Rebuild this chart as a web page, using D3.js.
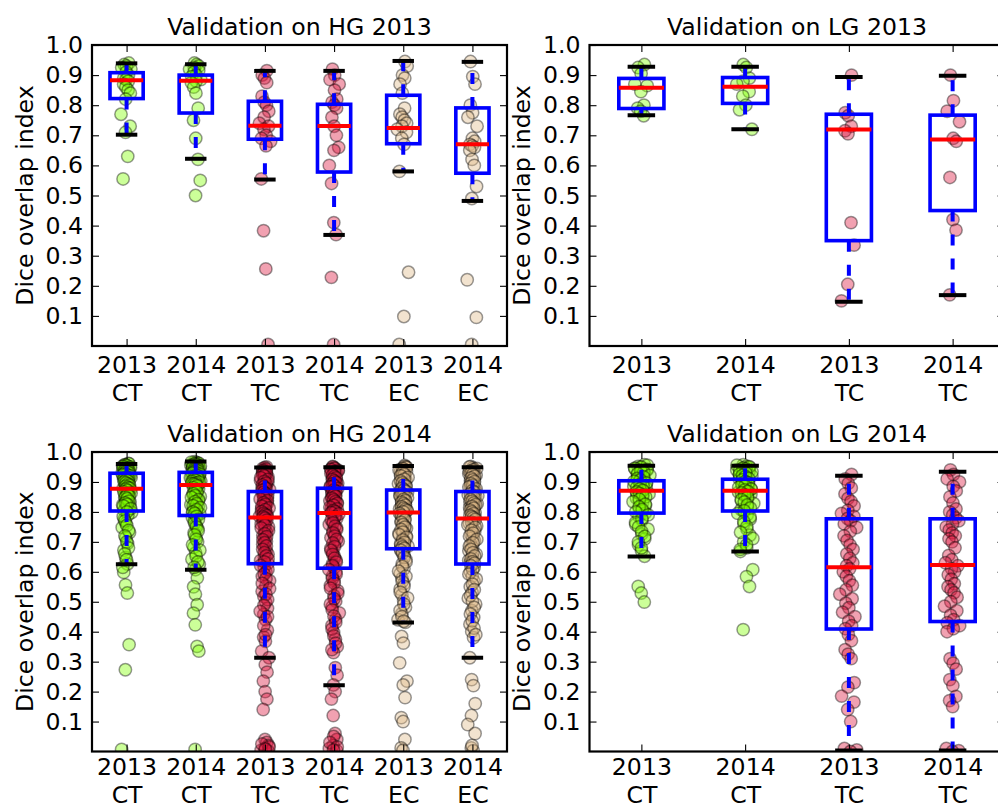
<!DOCTYPE html>
<html>
<head>
<meta charset="utf-8">
<script src="https://cdn.jsdelivr.net/npm/d3@7"></script>
<style>
  body { margin: 0; background: #fff; }
  svg { display: block; font-family: "DejaVu Sans", sans-serif; }
</style>
</head>
<body>
<svg id="chart" width="998" height="809"></svg>
<script>
// categories
const hgCats = [["2013", "CT"], ["2014", "CT"], ["2013", "TC"], ["2014", "TC"], ["2013", "EC"], ["2014", "EC"]];
const lgCats = [["2013", "CT"], ["2014", "CT"], ["2013", "TC"], ["2014", "TC"]];
const yTicks = [0.1, 0.2, 0.3, 0.4, 0.5, 0.6, 0.7, 0.8, 0.9, 1.0];

// ---- Validation on HG 2013 ----
const hg2013Scores = [
  [0.94, 0.935, 0.93, 0.925, 0.92, 0.91, 0.90, 0.89, 0.885, 0.88, 0.87, 0.86, 0.85, 0.84, 0.82, 0.77, 0.73, 0.71, 0.63, 0.555],
  [0.94, 0.935, 0.93, 0.925, 0.92, 0.915, 0.91, 0.90, 0.895, 0.885, 0.88, 0.875, 0.86, 0.84, 0.79, 0.75, 0.69, 0.62, 0.55, 0.50],
  [0.915, 0.90, 0.89, 0.875, 0.83, 0.81, 0.80, 0.78, 0.76, 0.74, 0.73, 0.72, 0.70, 0.69, 0.68, 0.665, 0.555, 0.383, 0.256, 0.005],
  [0.92, 0.90, 0.885, 0.87, 0.85, 0.82, 0.81, 0.80, 0.79, 0.76, 0.73, 0.70, 0.66, 0.65, 0.60, 0.54, 0.41, 0.37, 0.228, 0.005],
  [0.945, 0.93, 0.90, 0.89, 0.87, 0.84, 0.79, 0.77, 0.76, 0.75, 0.74, 0.73, 0.72, 0.71, 0.69, 0.67, 0.58, 0.245, 0.098, 0.005],
  [0.945, 0.895, 0.87, 0.80, 0.775, 0.76, 0.73, 0.69, 0.68, 0.67, 0.665, 0.66, 0.65, 0.62, 0.60, 0.53, 0.49, 0.22, 0.095, 0.005]
];
const hg2013WhisHi = [0.939, 0.936, 0.914, 0.914, 0.947, 0.944];
const hg2013Q3     = [0.908, 0.900, 0.813, 0.803, 0.833, 0.791];
const hg2013Median = [0.883, 0.881, 0.732, 0.731, 0.724, 0.670];
const hg2013Q1     = [0.822, 0.774, 0.687, 0.578, 0.672, 0.574];
const hg2013WhisLo = [0.702, 0.622, 0.553, 0.369, 0.580, 0.482];

// ---- Validation on LG 2013 ----
const lg2013Scores = [
  [0.935, 0.925, 0.905, 0.87, 0.865, 0.845, 0.80, 0.79, 0.78, 0.765],
  [0.935, 0.925, 0.89, 0.88, 0.87, 0.845, 0.83, 0.80, 0.785, 0.72],
  [0.90, 0.775, 0.765, 0.73, 0.715, 0.705, 0.41, 0.335, 0.205, 0.15],
  [0.90, 0.815, 0.78, 0.745, 0.69, 0.68, 0.56, 0.42, 0.385, 0.17]
];
const lg2013WhisHi = [0.928, 0.928, 0.894, 0.898];
const lg2013Q3     = [0.889, 0.892, 0.770, 0.767];
const lg2013Median = [0.858, 0.861, 0.719, 0.686];
const lg2013Q1     = [0.789, 0.806, 0.350, 0.450];
const lg2013WhisLo = [0.767, 0.720, 0.147, 0.169];

// ---- Validation on HG 2014 ----
const hg2014Scores = [
  [0.962, 0.958, 0.955, 0.953, 0.95, 0.948, 0.946, 0.944, 0.942, 0.94, 0.938, 0.936, 0.934, 0.933, 0.931, 0.93,
   0.927, 0.924, 0.921, 0.918, 0.915, 0.912, 0.909, 0.905, 0.902, 0.899, 0.895, 0.891, 0.888, 0.884, 0.881, 0.878,
   0.874, 0.869, 0.865, 0.861, 0.856, 0.851, 0.847, 0.842, 0.838, 0.833, 0.828, 0.823, 0.818, 0.814, 0.809, 0.805,
   0.798, 0.789, 0.776, 0.762, 0.748, 0.731, 0.714, 0.695, 0.672, 0.648, 0.626, 0.598, 0.556, 0.529, 0.357, 0.273, 0.007,
   0.961, 0.957, 0.954, 0.951, 0.949, 0.947, 0.945, 0.943, 0.941, 0.939, 0.937, 0.935, 0.932, 0.929, 0.926, 0.923,
   0.92, 0.917, 0.914, 0.911, 0.907, 0.903, 0.9, 0.897, 0.893, 0.889, 0.886, 0.882, 0.879, 0.876, 0.872, 0.867,
   0.863, 0.858, 0.853, 0.849, 0.844, 0.836, 0.83, 0.825, 0.82, 0.811, 0.8, 0.785, 0.77, 0.755, 0.738, 0.72,
   0.7, 0.68, 0.66, 0.64, 0.615],
  [0.968, 0.965, 0.962, 0.96, 0.957, 0.955, 0.952, 0.95, 0.948, 0.945, 0.943, 0.941, 0.939, 0.937, 0.935, 0.933,
   0.93, 0.927, 0.924, 0.921, 0.918, 0.915, 0.912, 0.909, 0.906, 0.903, 0.9, 0.898, 0.896, 0.894, 0.892, 0.89,
   0.884, 0.877, 0.871, 0.864, 0.858, 0.851, 0.845, 0.838, 0.831, 0.824, 0.818, 0.811, 0.804, 0.798, 0.793, 0.789,
   0.781, 0.77, 0.757, 0.744, 0.73, 0.716, 0.7, 0.682, 0.663, 0.642, 0.625, 0.607, 0.58, 0.55, 0.525, 0.49, 0.462, 0.423, 0.351, 0.335, 0.007,
   0.966, 0.963, 0.961, 0.958, 0.956, 0.953, 0.951, 0.949, 0.946, 0.944, 0.942, 0.94, 0.938, 0.936, 0.934, 0.931,
   0.929, 0.926, 0.923, 0.92, 0.917, 0.914, 0.911, 0.908, 0.905, 0.902, 0.899, 0.897, 0.895, 0.893, 0.891, 0.887,
   0.881, 0.874, 0.867, 0.861, 0.854, 0.848, 0.841, 0.834, 0.827, 0.821, 0.814, 0.807, 0.8, 0.795, 0.785, 0.775,
   0.763, 0.75, 0.737, 0.723, 0.708, 0.69, 0.672, 0.652, 0.633, 0.615],
  [0.95, 0.945, 0.94, 0.936, 0.932, 0.928, 0.922, 0.917, 0.911, 0.905, 0.899, 0.893, 0.887, 0.881, 0.875, 0.869,
   0.864, 0.858, 0.852, 0.846, 0.84, 0.834, 0.828, 0.822, 0.816, 0.81, 0.804, 0.798, 0.793, 0.789, 0.785, 0.782,
   0.776, 0.768, 0.759, 0.75, 0.741, 0.732, 0.722, 0.712, 0.702, 0.692, 0.681, 0.67, 0.659, 0.648, 0.638, 0.628,
   0.615, 0.6, 0.585, 0.57, 0.553, 0.535, 0.517, 0.498, 0.478, 0.458, 0.44, 0.405, 0.382, 0.368, 0.335, 0.313,
   0.29, 0.265, 0.235, 0.2, 0.175, 0.14, 0.04, 0.03, 0.02, 0.01, 0.004, 0.0,
   0.948, 0.943, 0.938, 0.934, 0.93, 0.925, 0.92, 0.914, 0.908, 0.902, 0.896, 0.89, 0.884, 0.878, 0.872, 0.866,
   0.861, 0.855, 0.849, 0.843, 0.837, 0.831, 0.825, 0.819, 0.813, 0.807, 0.801, 0.795, 0.791, 0.787, 0.783, 0.779,
   0.772, 0.764, 0.755, 0.746, 0.737, 0.727, 0.717, 0.707, 0.697, 0.686, 0.675, 0.664, 0.653, 0.643, 0.633, 0.621,
   0.607, 0.592, 0.577, 0.561, 0.544, 0.526, 0.507, 0.488, 0.468, 0.45, 0.42, 0.39, 0.025, 0.015, 0.008],
  [0.952, 0.947, 0.943, 0.939, 0.935, 0.931, 0.926, 0.921, 0.916, 0.911, 0.906, 0.901, 0.896, 0.891, 0.886, 0.881,
   0.876, 0.871, 0.866, 0.861, 0.855, 0.849, 0.843, 0.837, 0.831, 0.825, 0.819, 0.813, 0.808, 0.803, 0.799, 0.796,
   0.788, 0.778, 0.768, 0.758, 0.747, 0.736, 0.725, 0.714, 0.702, 0.69, 0.678, 0.665, 0.652, 0.639, 0.626, 0.614,
   0.6, 0.585, 0.57, 0.554, 0.537, 0.52, 0.502, 0.483, 0.463, 0.442, 0.42, 0.398, 0.375, 0.35, 0.33, 0.28,
   0.255, 0.222, 0.2, 0.175, 0.12, 0.06, 0.04, 0.02, 0.01, 0.003,
   0.95, 0.945, 0.941, 0.937, 0.933, 0.928, 0.923, 0.918, 0.913, 0.908, 0.903, 0.898, 0.893, 0.888, 0.883, 0.878,
   0.873, 0.868, 0.863, 0.858, 0.852, 0.846, 0.84, 0.834, 0.828, 0.822, 0.816, 0.81, 0.805, 0.801, 0.797, 0.793,
   0.783, 0.773, 0.763, 0.752, 0.741, 0.73, 0.719, 0.708, 0.696, 0.684, 0.671, 0.658, 0.645, 0.632, 0.62, 0.607,
   0.592, 0.577, 0.562, 0.545, 0.528, 0.51, 0.492, 0.473, 0.452, 0.431, 0.409, 0.386, 0.362, 0.34, 0.05, 0.03, 0.015, 0.005],
  [0.955, 0.95, 0.946, 0.942, 0.938, 0.933, 0.928, 0.923, 0.918, 0.912, 0.906, 0.9, 0.894, 0.888, 0.882, 0.876,
   0.87, 0.865, 0.86, 0.855, 0.85, 0.845, 0.84, 0.835, 0.83, 0.825, 0.82, 0.815, 0.81, 0.806, 0.802, 0.799,
   0.792, 0.785, 0.777, 0.769, 0.761, 0.753, 0.745, 0.737, 0.728, 0.72, 0.711, 0.702, 0.694, 0.686, 0.68, 0.677,
   0.668, 0.655, 0.641, 0.626, 0.61, 0.594, 0.577, 0.56, 0.542, 0.523, 0.503, 0.482, 0.46, 0.44, 0.431, 0.384,
   0.362, 0.296, 0.235, 0.222, 0.18, 0.113, 0.1, 0.04, 0.012, 0.004,
   0.952, 0.948, 0.944, 0.94, 0.935, 0.93, 0.925, 0.92, 0.915, 0.909, 0.903, 0.897, 0.891, 0.885, 0.879, 0.873,
   0.868, 0.862, 0.857, 0.852, 0.847, 0.842, 0.837, 0.832, 0.827, 0.822, 0.817, 0.812, 0.808, 0.804, 0.8, 0.795,
   0.788, 0.781, 0.773, 0.765, 0.757, 0.749, 0.741, 0.732, 0.724, 0.715, 0.706, 0.698, 0.69, 0.683, 0.678, 0.672,
   0.662, 0.648, 0.633, 0.618, 0.602, 0.585, 0.568, 0.551, 0.532, 0.513, 0.492, 0.471, 0.45, 0.435],
  [0.952, 0.947, 0.942, 0.937, 0.932, 0.927, 0.922, 0.916, 0.91, 0.904, 0.898, 0.892, 0.886, 0.88, 0.874, 0.869,
   0.863, 0.857, 0.851, 0.845, 0.839, 0.833, 0.827, 0.821, 0.815, 0.809, 0.803, 0.797, 0.791, 0.786, 0.782, 0.779,
   0.771, 0.762, 0.753, 0.744, 0.734, 0.724, 0.714, 0.703, 0.692, 0.681, 0.67, 0.659, 0.648, 0.638, 0.631, 0.627,
   0.615, 0.6, 0.585, 0.568, 0.55, 0.531, 0.512, 0.492, 0.47, 0.448, 0.425, 0.4, 0.38, 0.313, 0.24, 0.22,
   0.16, 0.12, 0.09, 0.06, 0.012, 0.003,
   0.95, 0.945, 0.94, 0.935, 0.93, 0.925, 0.919, 0.913, 0.907, 0.901, 0.895, 0.889, 0.883, 0.877, 0.871, 0.866,
   0.86, 0.854, 0.848, 0.842, 0.836, 0.83, 0.824, 0.818, 0.812, 0.806, 0.8, 0.794, 0.788, 0.784, 0.78, 0.775,
   0.766, 0.757, 0.748, 0.739, 0.729, 0.719, 0.708, 0.697, 0.686, 0.675, 0.664, 0.653, 0.643, 0.634, 0.629, 0.62,
   0.607, 0.592, 0.576, 0.559, 0.54, 0.521, 0.502, 0.481, 0.459, 0.436, 0.412, 0.39, 0.02]
];
const hg2014WhisHi = [0.960, 0.968, 0.948, 0.949, 0.953, 0.949];
const hg2014Q3     = [0.929, 0.932, 0.868, 0.879, 0.873, 0.868];
const hg2014Median = [0.877, 0.890, 0.781, 0.796, 0.798, 0.778];
const hg2014Q1     = [0.803, 0.788, 0.627, 0.612, 0.677, 0.626];
const hg2014WhisLo = [0.625, 0.607, 0.313, 0.221, 0.431, 0.313];

// ---- Validation on LG 2014 ----
const lg2014Scores = [
  [0.958, 0.952, 0.948, 0.944, 0.94, 0.935, 0.93, 0.925, 0.92, 0.915, 0.91, 0.905, 0.9, 0.895, 0.89, 0.885,
   0.88, 0.875, 0.87, 0.865, 0.86, 0.853, 0.846, 0.838, 0.83, 0.822, 0.813, 0.804, 0.796, 0.785, 0.772, 0.758,
   0.742, 0.726, 0.71, 0.69, 0.67, 0.652, 0.551, 0.529, 0.499,
   0.956, 0.95, 0.946, 0.942, 0.938, 0.933, 0.928, 0.922, 0.917, 0.912, 0.907, 0.902, 0.897, 0.892, 0.887, 0.882,
   0.877, 0.872, 0.867, 0.862, 0.856, 0.85, 0.842, 0.834, 0.826, 0.817, 0.808, 0.8, 0.79, 0.778, 0.765, 0.75,
   0.735, 0.718, 0.7, 0.68],
  [0.958, 0.953, 0.949, 0.945, 0.94, 0.936, 0.932, 0.928, 0.924, 0.92, 0.915, 0.91, 0.905, 0.9, 0.895, 0.89,
   0.885, 0.88, 0.875, 0.871, 0.866, 0.86, 0.853, 0.845, 0.837, 0.828, 0.818, 0.808, 0.8, 0.79, 0.776, 0.76,
   0.742, 0.722, 0.7, 0.68, 0.668, 0.607, 0.584, 0.551, 0.407,
   0.956, 0.951, 0.947, 0.943, 0.938, 0.934, 0.93, 0.926, 0.922, 0.918, 0.912, 0.907, 0.902, 0.897, 0.892, 0.887,
   0.882, 0.877, 0.873, 0.868, 0.863, 0.857, 0.849, 0.841, 0.833, 0.823, 0.813, 0.804, 0.795, 0.783, 0.768, 0.751,
   0.732, 0.711, 0.69, 0.675],
  [0.925, 0.91, 0.895, 0.88, 0.86, 0.845, 0.835, 0.82, 0.805, 0.795, 0.785, 0.778, 0.77, 0.76, 0.748, 0.735,
   0.72, 0.705, 0.69, 0.675, 0.66, 0.645, 0.63, 0.62, 0.61, 0.6, 0.585, 0.57, 0.555, 0.54, 0.525, 0.51,
   0.495, 0.48, 0.465, 0.45, 0.435, 0.42, 0.41, 0.39, 0.37, 0.34, 0.325, 0.31, 0.23, 0.215, 0.185, 0.165,
   0.14, 0.1, 0.01, 0.005, 0.0],
  [0.94, 0.925, 0.91, 0.9, 0.885, 0.87, 0.85, 0.83, 0.81, 0.8, 0.79, 0.78, 0.77, 0.76, 0.75, 0.74,
   0.73, 0.72, 0.71, 0.7, 0.68, 0.655, 0.64, 0.63, 0.62, 0.61, 0.6, 0.59, 0.575, 0.56, 0.55, 0.54,
   0.53, 0.515, 0.5, 0.485, 0.47, 0.455, 0.44, 0.43, 0.42, 0.41, 0.4, 0.31, 0.295, 0.275, 0.24, 0.22,
   0.184, 0.17, 0.15, 0.01, 0.003, 0.0]
];
const lg2014WhisHi = [0.954, 0.954, 0.921, 0.934];
const lg2014Q3     = [0.904, 0.909, 0.777, 0.777];
const lg2014Median = [0.871, 0.871, 0.615, 0.623];
const lg2014Q1     = [0.796, 0.803, 0.409, 0.434];
const lg2014WhisLo = [0.651, 0.668, 0.003, 0.003];

const pointColor = { CT: "#7fff00", TC: "#dc143c", EC: "#deb887" };

const panels = [
  { id: "hg13", title: "Validation on HG 2013", cats: hgCats, scores: hg2013Scores,
    hi: hg2013WhisHi, q3: hg2013Q3, med: hg2013Median, q1: hg2013Q1, lo: hg2013WhisLo,
    left: 92, right: 507, top: 45, bottom: 346, labelX: 33, boxW: 0.48, capW: 0.31, spread: 0.1, pad: 10 },
  { id: "lg13", title: "Validation on LG 2013", cats: lgCats, scores: lg2013Scores,
    hi: lg2013WhisHi, q3: lg2013Q3, med: lg2013Median, q1: lg2013Q1, lo: lg2013WhisLo,
    left: 589.5, right: 1004.5, top: 45, bottom: 346, labelX: 530, boxW: 0.435, capW: 0.265, spread: 0.09, pad: 10 },
  { id: "hg14", title: "Validation on HG 2014", cats: hgCats, scores: hg2014Scores,
    hi: hg2014WhisHi, q3: hg2014Q3, med: hg2014Median, q1: hg2014Q1, lo: hg2014WhisLo,
    left: 92, right: 507, top: 452, bottom: 751.5, labelX: 33, boxW: 0.48, capW: 0.31, spread: 0.08, pad: 7 },
  { id: "lg14", title: "Validation on LG 2014", cats: lgCats, scores: lg2014Scores,
    hi: lg2014WhisHi, q3: lg2014Q3, med: lg2014Median, q1: lg2014Q1, lo: lg2014WhisLo,
    left: 589.5, right: 1004.5, top: 452, bottom: 751.5, labelX: 530, boxW: 0.435, capW: 0.265, spread: 0.09, pad: 7 }
];

const svg = d3.select("#chart");
const fontSize = 23.6;

// deterministic jitter so points sit side by side around the category
function jitter(i, c) {
  const a = ((i + 1) * 0.7548777 + c * 0.31) % 1;
  const b = ((i + 1) * 0.5698403 + c * 0.17) % 1;
  return a + b - 1;
}

panels.forEach(drawPanel);

function drawPanel(p) {
  const n = p.cats.length;
  const x = d3.scaleLinear().domain([0.5, n + 0.5]).range([p.left, p.right]);
  const y = d3.scaleLinear().domain([0, 1]).range([p.bottom, p.top]);
  const idx = d3.range(n);

  const g = svg.append("g");
  g.append("clipPath").attr("id", "clip-" + p.id)
    .append("rect")
    .attr("x", p.left).attr("y", p.top)
    .attr("width", p.right - p.left).attr("height", p.bottom - p.top);

  const plot = g.append("g").attr("clip-path", `url(#clip-${p.id})`);

  // scatter of all scores
  p.scores.forEach((vals, c) => {
    plot.append("g").selectAll("circle")
      .data(vals)
      .enter().append("circle")
      .attr("cx", (d, i) => x(c + 1 + jitter(i, c) * p.spread))
      .attr("cy", d => y(d))
      .attr("r", 6.2)
      .attr("fill", pointColor[p.cats[c][1]])
      .attr("fill-opacity", 0.4)
      .attr("stroke", "#000")
      .attr("stroke-opacity", 0.4)
      .attr("stroke-width", 1.5);
  });

  // whiskers (dashed, from box edge outwards)
  const whisk = plot.append("g")
    .attr("stroke", "#0000ff").attr("stroke-width", 4).attr("stroke-dasharray", "11,13");
  whisk.selectAll(".wlo").data(idx).enter().append("line")
    .attr("x1", c => x(c + 1)).attr("x2", c => x(c + 1))
    .attr("y1", c => y(p.q1[c])).attr("y2", c => y(p.lo[c]));
  whisk.selectAll(".whi").data(idx).enter().append("line")
    .attr("x1", c => x(c + 1)).attr("x2", c => x(c + 1))
    .attr("y1", c => y(p.q3[c])).attr("y2", c => y(p.hi[c]));

  // boxes
  plot.append("g").selectAll("rect").data(idx).enter().append("rect")
    .attr("x", c => x(c + 1 - p.boxW / 2))
    .attr("width", c => x(c + 1 + p.boxW / 2) - x(c + 1 - p.boxW / 2))
    .attr("y", c => y(p.q3[c]))
    .attr("height", c => y(p.q1[c]) - y(p.q3[c]))
    .attr("fill", "none").attr("stroke", "#0000ff").attr("stroke-width", 3.6);

  // medians
  plot.append("g").selectAll("line").data(idx).enter().append("line")
    .attr("x1", c => x(c + 1 - p.boxW / 2)).attr("x2", c => x(c + 1 + p.boxW / 2))
    .attr("y1", c => y(p.med[c])).attr("y2", c => y(p.med[c]))
    .attr("stroke", "#ff0000").attr("stroke-width", 4);

  // caps
  const caps = plot.append("g").attr("stroke", "#000").attr("stroke-width", 4);
  [p.lo, p.hi].forEach(arr => {
    caps.append("g").selectAll("line").data(idx).enter().append("line")
      .attr("x1", c => x(c + 1 - p.capW / 2)).attr("x2", c => x(c + 1 + p.capW / 2))
      .attr("y1", c => y(arr[c])).attr("y2", c => y(arr[c]));
  });

  // axes: inward ticks on all four sides
  g.append("g").attr("transform", `translate(${p.left},0)`)
    .call(d3.axisLeft(y).tickValues(yTicks).tickSize(-7).tickPadding(9).tickFormat(d3.format(".1f")));
  g.append("g").attr("transform", `translate(${p.right},0)`)
    .call(d3.axisRight(y).tickValues(yTicks).tickSize(-7).tickFormat(""));
  const xBottom = g.append("g").attr("transform", `translate(0,${p.bottom})`)
    .call(d3.axisBottom(x).tickValues(d3.range(1, n + 1)).tickSize(-7).tickPadding(p.pad)
      .tickFormat(d => p.cats[d - 1][0]));
  g.append("g").attr("transform", `translate(0,${p.top})`)
    .call(d3.axisTop(x).tickValues(d3.range(1, n + 1)).tickSize(-7).tickFormat(""));

  g.selectAll(".domain").remove();
  g.selectAll(".tick line").attr("stroke", "#000").attr("stroke-width", 1.1);
  g.selectAll(".tick text").attr("font-size", fontSize).attr("fill", "#000")
    .attr("font-family", "DejaVu Sans, sans-serif");

  // second line of the category label
  xBottom.selectAll(".tick text").each(function(d) {
    d3.select(this).append("tspan")
      .attr("x", 0).attr("dy", "1.18em")
      .text(p.cats[d - 1][1]);
  });

  // frame
  g.append("rect")
    .attr("x", p.left).attr("y", p.top)
    .attr("width", p.right - p.left).attr("height", p.bottom - p.top)
    .attr("fill", "none").attr("stroke", "#000").attr("stroke-width", 2.2);

  // title
  g.append("text")
    .attr("x", (p.left + p.right) / 2).attr("y", p.top - 10)
    .attr("text-anchor", "middle").attr("font-size", fontSize)
    .text(p.title);

  // y label
  g.append("text")
    .attr("transform", `translate(${p.labelX},${(p.top + p.bottom) / 2}) rotate(-90)`)
    .attr("text-anchor", "middle").attr("font-size", fontSize)
    .text("Dice overlap index");
}
</script>
</body>
</html>
